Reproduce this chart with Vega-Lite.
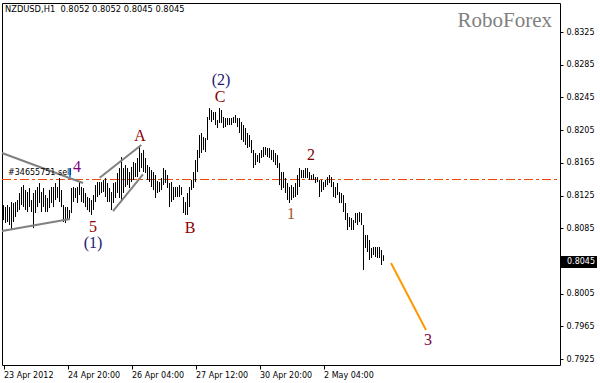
{
"$schema":"https://vega.github.io/schema/vega-lite/v6.json",
"width":558,"height":362,
"autosize":{"type":"none"},
"padding":{"left":2,"top":3,"right":40,"bottom":18},
"background":"white",
"view":{"stroke":"black","strokeWidth":1},
"datasets":{
"bars":[
{"i":0,"p":0.81134,"p2":0.80950},{"i":1,"p":0.81109,"p2":0.80914},{"i":2,"p":0.81134,"p2":0.80926},{"i":3,"p":0.81109,"p2":0.80889},{"i":4,"p":0.81171,"p2":0.80828},{"i":5,"p":0.81158,"p2":0.80926},{"i":6,"p":0.81171,"p2":0.80987},{"i":7,"p":0.81195,"p2":0.81048},{"i":8,"p":0.81281,"p2":0.81073},{"i":9,"p":0.81354,"p2":0.81134},
{"i":10,"p":0.81378,"p2":0.81109},{"i":11,"p":0.81317,"p2":0.81073},{"i":12,"p":0.81293,"p2":0.81048},{"i":13,"p":0.81342,"p2":0.81109},{"i":14,"p":0.81195,"p2":0.81048},{"i":15,"p":0.81281,"p2":0.80852},{"i":16,"p":0.81317,"p2":0.81036},{"i":17,"p":0.81354,"p2":0.81109},{"i":18,"p":0.81403,"p2":0.81158},{"i":19,"p":0.81293,"p2":0.81048},
{"i":20,"p":0.81342,"p2":0.81109},{"i":21,"p":0.81256,"p2":0.81048},{"i":22,"p":0.81220,"p2":0.81048},{"i":23,"p":0.81317,"p2":0.81097},{"i":24,"p":0.81354,"p2":0.81158},{"i":25,"p":0.81354,"p2":0.81109},{"i":26,"p":0.81403,"p2":0.81195},{"i":27,"p":0.81354,"p2":0.81220},{"i":28,"p":0.81464,"p2":0.81171},{"i":29,"p":0.81317,"p2":0.81109},
{"i":30,"p":0.81134,"p2":0.80926},{"i":31,"p":0.81109,"p2":0.80914},{"i":32,"p":0.81109,"p2":0.80950},{"i":33,"p":0.81073,"p2":0.80950},{"i":34,"p":0.81342,"p2":0.81036},{"i":35,"p":0.81354,"p2":0.81171},{"i":36,"p":0.81342,"p2":0.81220},{"i":37,"p":0.81354,"p2":0.81158},{"i":38,"p":0.81415,"p2":0.81256},{"i":39,"p":0.81354,"p2":0.81171},
{"i":40,"p":0.81342,"p2":0.81158},{"i":41,"p":0.81281,"p2":0.81109},{"i":42,"p":0.81232,"p2":0.81073},{"i":43,"p":0.81220,"p2":0.81048},{"i":44,"p":0.81195,"p2":0.81012},{"i":45,"p":0.81256,"p2":0.81073},{"i":46,"p":0.81378,"p2":0.81171},{"i":47,"p":0.81415,"p2":0.81232},{"i":48,"p":0.81415,"p2":0.81256},{"i":49,"p":0.81415,"p2":0.81281},
{"i":50,"p":0.81440,"p2":0.81293},{"i":51,"p":0.81464,"p2":0.81232},{"i":52,"p":0.81403,"p2":0.81171},{"i":53,"p":0.81342,"p2":0.81171},{"i":54,"p":0.81293,"p2":0.81073},{"i":55,"p":0.81403,"p2":0.81158},{"i":56,"p":0.81415,"p2":0.81220},{"i":57,"p":0.81525,"p2":0.81281},{"i":58,"p":0.81586,"p2":0.81220},{"i":59,"p":0.81721,"p2":0.81171},
{"i":60,"p":0.81586,"p2":0.81281},{"i":61,"p":0.81623,"p2":0.81354},{"i":62,"p":0.81586,"p2":0.81378},{"i":63,"p":0.81538,"p2":0.81342},{"i":64,"p":0.81599,"p2":0.81415},{"i":65,"p":0.81660,"p2":0.81440},{"i":66,"p":0.81648,"p2":0.81476},{"i":67,"p":0.81709,"p2":0.81476},{"i":68,"p":0.81843,"p2":0.81538},{"i":69,"p":0.81770,"p2":0.81586},
{"i":70,"p":0.81807,"p2":0.81538},{"i":71,"p":0.81709,"p2":0.81525},{"i":72,"p":0.81623,"p2":0.81440},{"i":73,"p":0.81599,"p2":0.81415},{"i":74,"p":0.81562,"p2":0.81354},{"i":75,"p":0.81538,"p2":0.81317},{"i":76,"p":0.81501,"p2":0.81220},{"i":77,"p":0.81427,"p2":0.81281},{"i":78,"p":0.81415,"p2":0.81293},{"i":79,"p":0.81464,"p2":0.81317},
{"i":80,"p":0.81586,"p2":0.81378},{"i":81,"p":0.81562,"p2":0.81403},{"i":82,"p":0.81501,"p2":0.81342},{"i":83,"p":0.81403,"p2":0.81109},{"i":84,"p":0.81415,"p2":0.81171},{"i":85,"p":0.81354,"p2":0.81195},{"i":86,"p":0.81354,"p2":0.81232},{"i":87,"p":0.81354,"p2":0.81232},{"i":88,"p":0.81378,"p2":0.81232},{"i":89,"p":0.81354,"p2":0.81256},
{"i":90,"p":0.81232,"p2":0.81036},{"i":91,"p":0.81171,"p2":0.81012},{"i":92,"p":0.81281,"p2":0.81012},{"i":93,"p":0.81354,"p2":0.81109},{"i":94,"p":0.81440,"p2":0.81317},{"i":95,"p":0.81538,"p2":0.81342},{"i":96,"p":0.81684,"p2":0.81415},{"i":97,"p":0.81807,"p2":0.81538},{"i":98,"p":0.81990,"p2":0.81709},{"i":99,"p":0.82015,"p2":0.81770},
{"i":100,"p":0.81966,"p2":0.81807},{"i":101,"p":0.81953,"p2":0.81782},{"i":102,"p":0.82210,"p2":0.81929},{"i":103,"p":0.82320,"p2":0.82174},{"i":104,"p":0.82296,"p2":0.82149},{"i":105,"p":0.82271,"p2":0.82174},{"i":106,"p":0.82271,"p2":0.82112},{"i":107,"p":0.82174,"p2":0.82076},{"i":108,"p":0.82320,"p2":0.82137},{"i":109,"p":0.82296,"p2":0.82137},
{"i":110,"p":0.82210,"p2":0.82076},{"i":111,"p":0.82198,"p2":0.82088},{"i":112,"p":0.82198,"p2":0.82112},{"i":113,"p":0.82198,"p2":0.82112},{"i":114,"p":0.82198,"p2":0.82112},{"i":115,"p":0.82210,"p2":0.82137},{"i":116,"p":0.82235,"p2":0.82137},{"i":117,"p":0.82198,"p2":0.82088},{"i":118,"p":0.82198,"p2":0.82015},{"i":119,"p":0.82149,"p2":0.81929},
{"i":120,"p":0.82112,"p2":0.81905},{"i":121,"p":0.82076,"p2":0.81868},{"i":122,"p":0.82015,"p2":0.81831},{"i":123,"p":0.81990,"p2":0.81843},{"i":124,"p":0.81929,"p2":0.81770},{"i":125,"p":0.81807,"p2":0.81586},{"i":126,"p":0.81770,"p2":0.81623},{"i":127,"p":0.81745,"p2":0.81660},{"i":128,"p":0.81770,"p2":0.81648},{"i":129,"p":0.81807,"p2":0.81709},
{"i":130,"p":0.81843,"p2":0.81721},{"i":131,"p":0.81843,"p2":0.81745},{"i":132,"p":0.81831,"p2":0.81721},{"i":133,"p":0.81831,"p2":0.81709},{"i":134,"p":0.81807,"p2":0.81684},{"i":135,"p":0.81807,"p2":0.81660},{"i":136,"p":0.81770,"p2":0.81623},{"i":137,"p":0.81745,"p2":0.81586},{"i":138,"p":0.81648,"p2":0.81378},{"i":139,"p":0.81538,"p2":0.81317},
{"i":140,"p":0.81538,"p2":0.81342},{"i":141,"p":0.81464,"p2":0.81281},{"i":142,"p":0.81403,"p2":0.81195},{"i":143,"p":0.81354,"p2":0.81158},{"i":144,"p":0.81378,"p2":0.81195},{"i":145,"p":0.81354,"p2":0.81220},{"i":146,"p":0.81403,"p2":0.81232},{"i":147,"p":0.81501,"p2":0.81256},{"i":148,"p":0.81586,"p2":0.81354},{"i":149,"p":0.81562,"p2":0.81464},
{"i":150,"p":0.81562,"p2":0.81464},{"i":151,"p":0.81586,"p2":0.81464},{"i":152,"p":0.81586,"p2":0.81464},{"i":153,"p":0.81538,"p2":0.81440},{"i":154,"p":0.81501,"p2":0.81440},{"i":155,"p":0.81513,"p2":0.81440},{"i":156,"p":0.81476,"p2":0.81403},{"i":157,"p":0.81476,"p2":0.81415},{"i":158,"p":0.81440,"p2":0.81232},{"i":159,"p":0.81440,"p2":0.81293},
{"i":160,"p":0.81415,"p2":0.81317},{"i":161,"p":0.81440,"p2":0.81354},{"i":162,"p":0.81476,"p2":0.81378},{"i":163,"p":0.81501,"p2":0.81403},{"i":164,"p":0.81476,"p2":0.81354},{"i":165,"p":0.81415,"p2":0.81232},{"i":166,"p":0.81354,"p2":0.81220},{"i":167,"p":0.81403,"p2":0.81256},{"i":168,"p":0.81293,"p2":0.81158},{"i":169,"p":0.81281,"p2":0.81158},
{"i":170,"p":0.81256,"p2":0.81048},{"i":171,"p":0.81158,"p2":0.80950},{"i":172,"p":0.81036,"p2":0.80828},{"i":173,"p":0.80987,"p2":0.80865},{"i":174,"p":0.80975,"p2":0.80828},{"i":175,"p":0.80950,"p2":0.80828},{"i":176,"p":0.81036,"p2":0.80914},{"i":177,"p":0.81036,"p2":0.80889},{"i":178,"p":0.81048,"p2":0.80926},{"i":179,"p":0.81036,"p2":0.80889},
{"i":180,"p":0.80889,"p2":0.80339},{"i":181,"p":0.80767,"p2":0.80608},{"i":182,"p":0.80767,"p2":0.80559},{"i":183,"p":0.80706,"p2":0.80461},{"i":184,"p":0.80608,"p2":0.80486},{"i":185,"p":0.80620,"p2":0.80522},{"i":186,"p":0.80620,"p2":0.80498},{"i":187,"p":0.80620,"p2":0.80486},{"i":188,"p":0.80620,"p2":0.80486},{"i":189,"p":0.80583,"p2":0.80400},
{"i":190,"p":0.8052,"p2":0.8045}
],
"trend":[
{"seg":"t1","i":-0.75,"p":0.81770},{"seg":"t1","i":39.75,"p":0.81403},
{"seg":"t2","i":-0.75,"p":0.80816},{"seg":"t2","i":33.25,"p":0.80963},
{"seg":"c1","i":48.1,"p":0.81468},{"seg":"c1","i":68.9,"p":0.81868},
{"seg":"c2","i":54.75,"p":0.81060},{"seg":"c2","i":69.75,"p":0.81509}
],
"waves":[
{"t":"4","i":36.75,"p":0.81599},
{"t":"5","i":44.75,"p":0.80864},
{"t":"(1)","i":44.75,"p":0.80669},
{"t":"A","i":68.25,"p":0.81978},
{"t":"B","i":93.25,"p":0.80852},
{"t":"(2)","i":108.75,"p":0.82663},
{"t":"C","i":108.25,"p":0.82455},
{"t":"1","i":143.75,"p":0.81024},
{"t":"2","i":153.75,"p":0.81745},
{"t":"3","i":212.25,"p":0.79483}
]
},
"encoding":{
"x":{"field":"i","type":"quantitative","scale":{"domain":[-0.75,278.25],"nice":false,"zero":false},
"axis":{"values":[0,32,64,96,128,160],"labelExpr":"['23 Apr 2012','24 Apr 20:00','26 Apr 04:00','27 Apr 12:00','30 Apr 20:00','2 May 04:00'][round(datum.value/32)]","labelAlign":"left","labelFont":"DejaVu Sans","labelFontSize":8,"labelColor":"black","tickColor":"black","tickSize":4,"labelPadding":2,"domain":false,"grid":false,"title":null,"labelOverlap":false,"labelFlush":false}},
"y":{"field":"p","type":"quantitative","scale":{"domain":[0.79177,0.83605],"nice":false,"zero":false},
"axis":{"orient":"right","values":[0.7925,0.7965,0.8005,0.8045,0.8085,0.8125,0.8165,0.8205,0.8245,0.8285,0.8325],"format":".4f","labelFont":"DejaVu Sans","labelFontSize":8,"labelColor":"black","tickColor":"black","tickSize":3,"labelPadding":3,"domain":false,"grid":false,"title":null,"labelOverlap":false}}
},
"layer":[
{"data":{"values":[{"i":-0.75,"p":0.81446},{"i":278.25,"p":0.81446}]},
 "mark":{"type":"line","color":"#f04a00","strokeWidth":1,"strokeDash":[9,3,3,3]},
 "encoding":{}},
{"data":{"name":"bars"},
 "mark":{"type":"rule","color":"black","strokeWidth":1},
 "encoding":{"y2":{"field":"p2"}}},
{"data":{"name":"trend"},
 "mark":{"type":"line","color":"#808080","strokeWidth":2},
 "encoding":{"detail":{"field":"seg"}}},
{"data":{"values":[{"i":193.75,"p":0.80424},{"i":211.25,"p":0.79605}]},
 "mark":{"type":"line","color":"#ff9900","strokeWidth":2},
 "encoding":{}},
{"data":{"values":[{"i":33.25,"p":0.81586,"p2":0.81476}]},
 "mark":{"type":"rule","color":"#3399ff","strokeWidth":2},
 "encoding":{"y2":{"field":"p2"}}},
{"data":{"name":"waves"},
 "mark":{"type":"text","font":"Liberation Serif","fontSize":16,"align":"center","baseline":"middle"},
 "encoding":{"text":{"field":"t"},
  "color":{"field":"t","type":"nominal","legend":null,
   "scale":{"domain":["4","5","(1)","A","B","(2)","C","1","2","3"],
            "range":["#800080","#8b0000","#191970","#8b0000","#8b0000","#191970","#8b0000","#a0522d","#800000","#800040"]}}}},
{"data":{"values":[{"i":2.25,"p":0.81525,"t":"#34655751 sell"}]},
 "mark":{"type":"text","font":"DejaVu Sans","fontSize":8,"align":"left","baseline":"middle","color":"black"},
 "encoding":{"text":{"field":"t"}}},
{"data":{"values":[{"i":0.75,"p":0.83519,"t":"NZDUSD,H1\u00a0 0.8052 0.8052 0.8045 0.8045"}]},
 "mark":{"type":"text","font":"DejaVu Sans","fontSize":8.3,"align":"left","baseline":"middle","color":"black"},
 "encoding":{"text":{"field":"t"}}},
{"data":{"values":[{"i":274.25,"p":0.83385,"t":"RoboForex"}]},
 "mark":{"type":"text","font":"Liberation Serif","fontSize":21,"align":"right","baseline":"middle","color":"#808080"},
 "encoding":{"text":{"field":"t"}}},
{"data":{"values":[{"i":278.75,"i2":296.75,"p":0.80510,"p2":0.80363}]},
 "mark":{"type":"rect","color":"black"},
 "encoding":{"x2":{"field":"i2"},"y2":{"field":"p2"}}},
{"data":{"values":[{"i":281.75,"p":0.80437,"t":"0.8045"}]},
 "mark":{"type":"text","font":"DejaVu Sans","fontSize":8,"align":"left","baseline":"middle","color":"white"},
 "encoding":{"text":{"field":"t"}}}
]
}
